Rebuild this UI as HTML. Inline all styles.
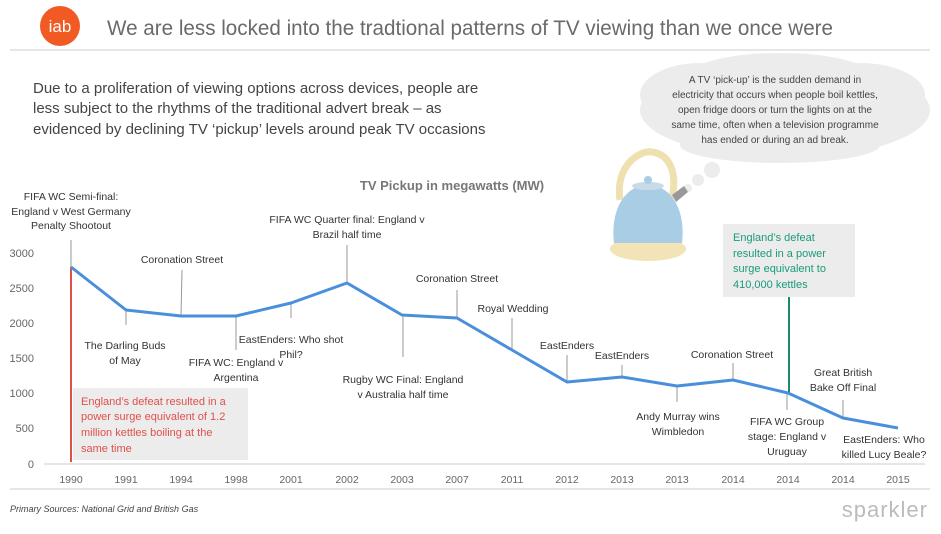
<!DOCTYPE html>
<html><head><meta charset="utf-8"><style>
body{margin:0;width:941px;height:529px;background:#fff;overflow:hidden;font-family:"Liberation Sans",sans-serif}
</style></head><body>
<svg width="941" height="529" xmlns="http://www.w3.org/2000/svg" font-family="Liberation Sans, sans-serif">
<circle cx="60" cy="26" r="20" fill="#f15a22"/>
<text x="60" y="32" font-size="17" fill="#fff" text-anchor="middle">iab</text>
<text x="107" y="35" font-size="21" fill="#6a6a6a" textLength="726" lengthAdjust="spacingAndGlyphs">We are less locked into the tradtional patterns of TV viewing than we once were</text>
<line x1="10" y1="50" x2="930" y2="50" stroke="#ccc" stroke-width="1"/>
<g font-size="15" fill="#444">
<text x="33" y="93">Due to a proliferation of viewing options across devices, people are</text>
<text x="33" y="113">less subject to the rhythms of the traditional advert break – as</text>
<text x="33" y="134">evidenced by declining TV ‘pickup’ levels around peak TV occasions</text>
</g>
<g fill="#ececec">
<ellipse cx="785" cy="110" rx="145" ry="48"/>
<ellipse cx="700" cy="95" rx="60" ry="32"/>
<ellipse cx="860" cy="95" rx="65" ry="32"/>
<ellipse cx="780" cy="75" rx="90" ry="22"/>
<ellipse cx="780" cy="145" rx="100" ry="18"/>
<circle cx="712" cy="170" r="8"/>
<circle cx="698" cy="180" r="6"/>
<circle cx="688" cy="188" r="4"/>
</g>
<g font-size="10" fill="#444" text-anchor="middle">
<text x="775" y="83">A TV ‘pick-up’ is the sudden demand in</text>
<text x="775" y="98">electricity that occurs when people boil kettles,</text>
<text x="775" y="113">open fridge doors or turn the lights on at the</text>
<text x="775" y="128">same time, often when a television programme</text>
<text x="775" y="143">has ended or during an ad break.</text>
</g>
<path d="M620 200 C615 165 640 150 652 152 C668 154 678 170 672 198" fill="none" stroke="#efe0b0" stroke-width="7"/>
<path d="M672 195 L684 186 L688 192 L676 202Z" fill="#999"/>
<ellipse cx="648" cy="249" rx="38" ry="12" fill="#f2e4b6"/>
<path d="M614 243 C610 210 625 185 648 185 C671 185 686 210 682 243 Z" fill="#a8cde4"/>
<ellipse cx="648" cy="186" rx="16" ry="4" fill="#c9dbe6"/>
<circle cx="648" cy="180" r="4" fill="#a8cde4"/>
<text x="452" y="190" font-size="13" font-weight="bold" fill="#777" text-anchor="middle">TV Pickup in megawatts (MW)</text>
<g font-size="11" fill="#666" text-anchor="end">
<text x="34" y="257">3000</text><text x="34" y="292">2500</text><text x="34" y="327">2000</text>
<text x="34" y="362">1500</text><text x="34" y="397">1000</text><text x="34" y="432">500</text><text x="34" y="468">0</text>
</g>
<line x1="44" y1="464" x2="925" y2="464" stroke="#ddd" stroke-width="1.5"/>
<g font-size="10.5" fill="#666" text-anchor="middle">
<text x="71" y="483">1990</text><text x="126" y="483">1991</text><text x="181" y="483">1994</text><text x="236" y="483">1998</text>
<text x="291" y="483">2001</text><text x="347" y="483">2002</text><text x="402" y="483">2003</text><text x="457" y="483">2007</text>
<text x="512" y="483">2011</text><text x="567" y="483">2012</text><text x="622" y="483">2013</text><text x="677" y="483">2013</text>
<text x="733" y="483">2014</text><text x="788" y="483">2014</text><text x="843" y="483">2014</text><text x="898" y="483">2015</text>
</g>
<line x1="10" y1="489" x2="930" y2="489" stroke="#ccc"/>
<rect x="73" y="388" width="175" height="72" fill="#ececec"/>
<g font-size="11" fill="#e0504a"><text x="81" y="405">England’s defeat resulted in a</text><text x="81" y="420">power surge equivalent of 1.2</text><text x="81" y="436">million kettles boiling at the</text><text x="81" y="452">same time</text></g>
<rect x="723" y="224" width="132" height="73" fill="#ececec"/>
<g font-size="11" fill="#1a9b7a"><text x="733" y="241">England’s defeat</text><text x="733" y="257">resulted in a power</text><text x="733" y="272">surge equivalent to</text><text x="733" y="288">410,000 kettles</text></g>
<g stroke="#999" stroke-width="1">
<line x1="126" y1="310" x2="126" y2="325"/><line x1="182" y1="270" x2="181" y2="316"/>
<line x1="236" y1="316" x2="236" y2="350"/><line x1="291" y1="303" x2="291" y2="318"/>
<line x1="347" y1="245" x2="347" y2="283"/><line x1="403" y1="315" x2="403" y2="357"/>
<line x1="457" y1="290" x2="457" y2="318"/><line x1="512" y1="318" x2="512" y2="350"/>
<line x1="567" y1="355" x2="567" y2="382"/><line x1="622" y1="365" x2="622" y2="377"/>
<line x1="677" y1="386" x2="677" y2="402"/><line x1="733" y1="363" x2="733" y2="380"/>
<line x1="787" y1="393" x2="787" y2="410"/><line x1="843" y1="400" x2="843" y2="418"/>
<line x1="71" y1="240" x2="71" y2="267"/>
</g>
<line x1="71" y1="267" x2="71" y2="462" stroke="#e0504a" stroke-width="2"/>
<line x1="789" y1="297" x2="789" y2="393" stroke="#1a8a6e" stroke-width="2"/>
<polyline fill="none" stroke="#4a8fdb" stroke-width="3" stroke-linejoin="round" points="71,267 126,310 181,316 236,316 291,303 347,283 402,315 457,318 512,350 567,382 622,377 677,386 733,380 788,393 843,418 898,428"/>
<g font-size="10.5" fill="#333" text-anchor="middle">
<text x="71" y="200">FIFA WC Semi-final:</text><text x="71" y="215">England v West Germany</text><text x="71" y="229">Penalty Shootout</text>
<text x="182" y="263">Coronation Street</text>
<text x="125" y="349">The Darling Buds</text><text x="125" y="364">of May</text>
<text x="236" y="366">FIFA WC: England v</text><text x="236" y="381">Argentina</text>
<text x="291" y="343">EastEnders: Who shot</text><text x="291" y="358">Phil?</text>
<text x="347" y="223">FIFA WC Quarter final: England v</text><text x="347" y="238">Brazil half time</text>
<text x="403" y="383">Rugby WC Final: England</text><text x="403" y="398">v Australia half time</text>
<text x="457" y="282">Coronation Street</text>
<text x="513" y="312">Royal Wedding</text>
<text x="567" y="349">EastEnders</text>
<text x="622" y="359">EastEnders</text>
<text x="678" y="420">Andy Murray wins</text><text x="678" y="435">Wimbledon</text>
<text x="732" y="358">Coronation Street</text>
<text x="787" y="425">FIFA WC Group</text><text x="787" y="440">stage: England v</text><text x="787" y="455">Uruguay</text>
<text x="843" y="376">Great British</text><text x="843" y="391">Bake Off Final</text>
<text x="884" y="443">EastEnders: Who</text><text x="884" y="458">killed Lucy Beale?</text>
</g>
<text x="10" y="512" font-size="9" font-style="italic" fill="#444">Primary Sources: National Grid and British Gas</text>
<text x="928" y="517" font-size="22" fill="#bbb" text-anchor="end" letter-spacing="1">sparkler</text>
</svg>
</body></html>
